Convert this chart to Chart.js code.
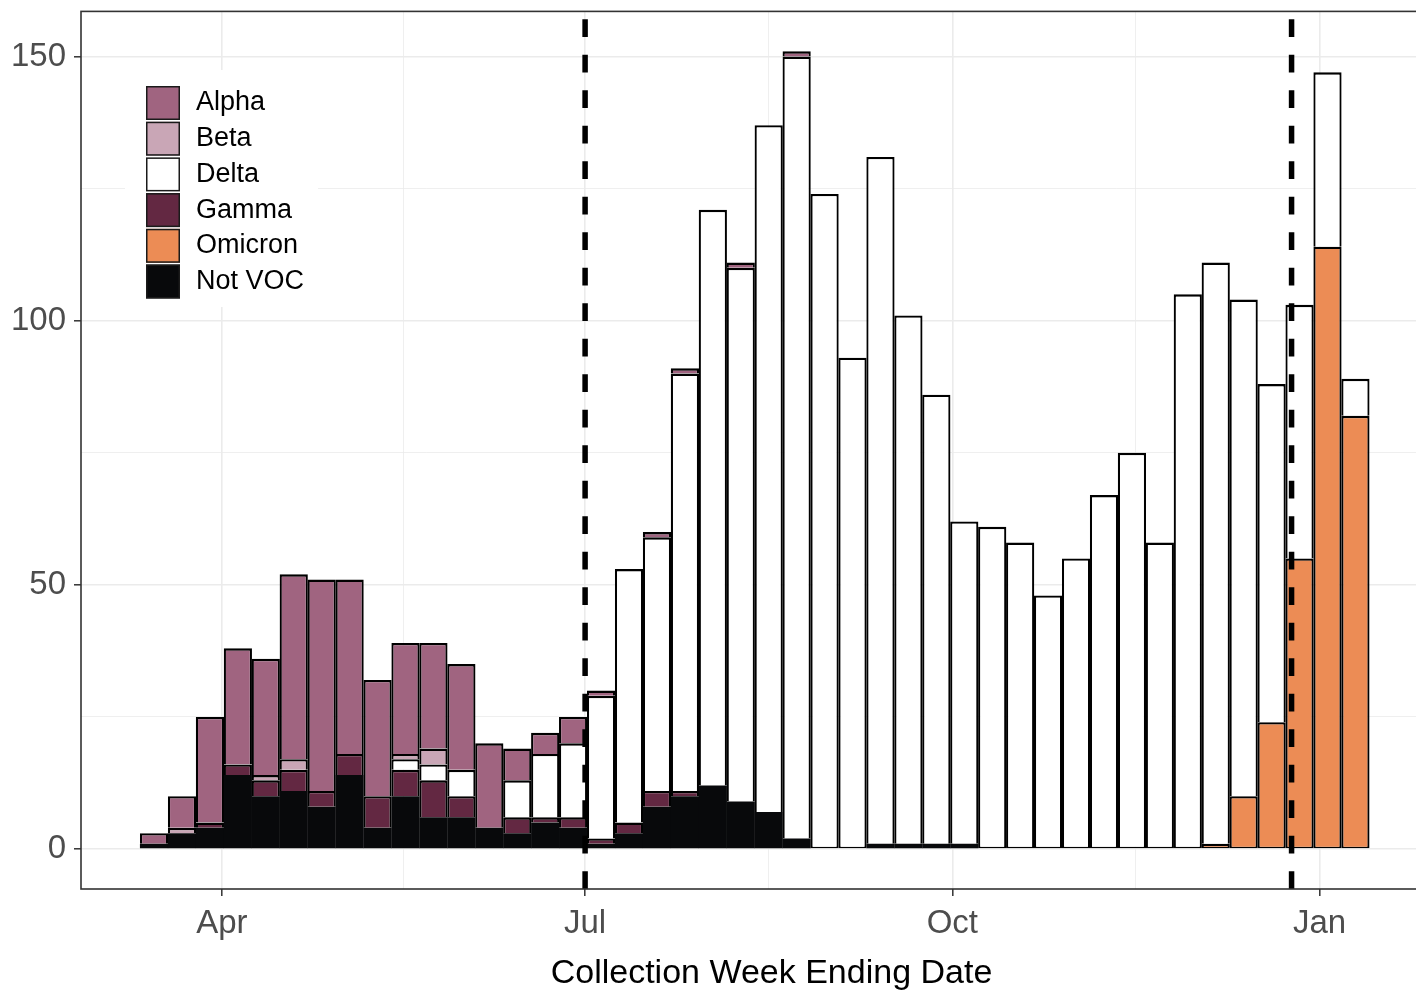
<!DOCTYPE html>
<html><head><meta charset="utf-8">
<script src="https://cdn.jsdelivr.net/npm/chart.js@4"></script>
<style>
html,body{margin:0;padding:0;background:#fff;overflow:hidden;}
#wrap{position:relative;width:1416px;height:992px;overflow:hidden;background:#fff;}
canvas{position:absolute;left:0;top:0;}
</style></head><body>
<div id="wrap"><canvas id="c" width="1464" height="992" style="width:1464px;height:992px"></canvas></div>
<script>
// ---- data ----
const weekDates = ['2021-03-15','2021-03-22','2021-03-29','2021-04-05','2021-04-12','2021-04-19','2021-04-26',
  '2021-05-03','2021-05-10','2021-05-17','2021-05-24','2021-05-31','2021-06-07','2021-06-14','2021-06-21','2021-06-28',
  '2021-07-05','2021-07-12','2021-07-19','2021-07-26','2021-08-02','2021-08-09','2021-08-16','2021-08-23','2021-08-30',
  '2021-09-06','2021-09-13','2021-09-20','2021-09-27','2021-10-04','2021-10-11','2021-10-18','2021-10-25',
  '2021-11-01','2021-11-08','2021-11-15','2021-11-22','2021-11-29','2021-12-06','2021-12-13','2021-12-20','2021-12-27',
  '2022-01-03','2022-01-10'];
const notVOC  = [1,3,4,14,10,11,8,14,4,10,6,6,4,3,5,4,1,3,8,10,12,9,7,2,0,0,1,1,1,1,0,0,0,0,0,0,0,0,0,0,0,0,0,0];
const omicron = [0,0,0,0,0,0,0,0,0,0,0,0,0,0,0,0,0,0,0,0,0,0,0,0,0,0,0,0,0,0,0,0,0,0,0,0,0,0,1,10,24,55,114,82];
const gamma   = [0,0,1,2,3,4,3,4,6,5,7,4,0,3,1,2,1,2,3,1,0,0,0,0,0,0,0,0,0,0,0,0,0,0,0,0,0,0,0,0,0,0,0,0];
const delta   = [0,0,0,0,0,0,0,0,0,2,3,5,0,7,12,14,27,48,48,79,109,101,130,148,124,93,130,100,85,61,61,58,48,55,67,75,58,105,110,94,64,48,33,7];
const beta    = [0,1,0,0,1,2,0,0,0,1,3,0,0,0,0,0,0,0,0,0,0,0,0,0,0,0,0,0,0,0,0,0,0,0,0,0,0,0,0,0,0,0,0,0];
const alpha   = [2,6,20,22,22,35,40,33,22,21,20,20,16,6,4,5,1,0,1,1,0,1,0,1,0,0,0,0,0,0,0,0,0,0,0,0,0,0,0,0,0,0,0,0];

const xTickDates  = ['2021-04-01','2021-07-01','2021-10-01','2022-01-01'];
const xTickLabels = ['Apr','Jul','Oct','Jan'];
const yTickValues = [0,50,100,150];
const vlineDates  = ['2021-07-01','2021-12-25'];
const xTitle = 'Collection Week Ending Date';

// stacking order: bottom first
const seriesDefs = [
  {label:'Not VOC', data:notVOC,  color:'#08090B'},
  {label:'Omicron', data:omicron, color:'#EC8C55'},
  {label:'Gamma',   data:gamma,   color:'#632842'},
  {label:'Delta',   data:delta,   color:'#FFFFFF'},
  {label:'Beta',    data:beta,    color:'#C9A6B6'},
  {label:'Alpha',   data:alpha,   color:'#A06480'}
];

// ---- helpers ----
const ORIGIN = Date.parse('2021-04-01T00:00:00Z');
const toDay = s => (Date.parse(s + 'T00:00:00Z') - ORIGIN) / 86400000;
const weekX = weekDates.map(toDay);
const xMajor = xTickDates.map(toDay);
const xMinor = [];
for (let i = 0; i < xMajor.length - 1; i++) xMinor.push((xMajor[i] + xMajor[i+1]) / 2);
const yMinor = [];
for (let i = 0; i < yTickValues.length - 1; i++) yMinor.push((yTickValues[i] + yTickValues[i+1]) / 2);

const bottomSeg = weekX.map((_, j) => seriesDefs.findIndex(s => s.data[j] > 0));

const FONT = "'Liberation Sans', Arial, Helvetica, sans-serif";

const datasets = seriesDefs.map((s, k) => ({
  label: s.label,
  data: s.data.map((v, j) => ({x: weekX[j], y: v > 0 ? v : null})),
  backgroundColor: s.color,
  borderColor: '#000000',
  borderWidth: ctx => {
    const j = ctx.dataIndex, d = ctx.datasetIndex;
    if (seriesDefs[d].label === 'Not VOC') return 0;
    return {top: 2.4, bottom: bottomSeg[j] === d ? 1.4 : 0, left: 2.2, right: 2.2};
  },
  borderSkipped: false,
  barPercentage: 1.01,
  categoryPercentage: 1.0,
  inflateAmount: 0
}));

const isMajorX = v => xMajor.some(m => Math.abs(m - v) < 1e-6);
const isMajorY = v => yTickValues.some(m => Math.abs(m - v) < 1e-6);

const overlayPlugin = {
  id: 'overlay',
  afterDatasetsDraw(chart) {
    const {ctx, chartArea: a, scales} = chart;
    ctx.save();
    // legend
    ctx.fillStyle = '#FFFFFF';
    ctx.fillRect(125, 70, 193, 237);
    const legendOrder = seriesDefs.slice().reverse();
    const pitch = 35.7;
    legendOrder.forEach((s, i) => {
      const y0 = 86 + i * pitch;
      ctx.fillStyle = s.color;
      ctx.fillRect(146, y0, 34, 34);
      ctx.lineWidth = 1.5;
      ctx.strokeStyle = '#1A1A1A';
      ctx.strokeRect(146.75, y0 + 0.75, 32.5, 32.5);
      ctx.fillStyle = '#000000';
      ctx.font = '27px ' + FONT;
      ctx.textAlign = 'left';
      ctx.textBaseline = 'middle';
      ctx.fillText(s.label, 196, y0 + 17);
    });
    // dashed vertical lines
    ctx.beginPath();
    ctx.rect(a.left, a.top, a.right - a.left, a.bottom - a.top);
    ctx.clip();
    ctx.strokeStyle = '#000000';
    ctx.lineWidth = 5.5;
    ctx.setLineDash([17.75, 17.75]);
    vlineDates.forEach(d => {
      const x = scales.x.getPixelForValue(toDay(d));
      ctx.beginPath();
      ctx.moveTo(x, a.bottom);
      ctx.lineTo(x, a.top);
      ctx.stroke();
    });
    ctx.restore();
  },
  afterDraw(chart) {
    const {ctx, chartArea: a} = chart;
    ctx.save();
    ctx.strokeStyle = '#333333';
    ctx.lineWidth = 1.6;
    ctx.strokeRect(a.left, a.top, a.right - a.left, a.bottom - a.top);
    ctx.restore();
  }
};

new Chart(document.getElementById('c'), {
  type: 'bar',
  data: {datasets},
  options: {
    responsive: false,
    animation: false,
    devicePixelRatio: 1,
    layout: {padding: {top: 11.4, left: 0, right: 2, bottom: 0}},
    plugins: {legend: {display: false}, tooltip: {enabled: false}},
    scales: {
      x: {
        type: 'linear', stacked: true, offset: false,
        min: -35.3, max: 310.7,
        afterBuildTicks: s => { s.ticks = xMajor.concat(xMinor).sort((a,b)=>a-b).map(v => ({value: v})); },
        afterFit: s => { s.height = 103; s.paddingLeft = 0; s.paddingRight = 0; },
        grid: {
          offset: false, drawOnChartArea: true, drawTicks: true, tickLength: 7,
          color: '#EBEBEB',
          lineWidth: c => (c.tick && isMajorX(c.tick.value) ? 1.6 : 0.8),
          tickColor: c => (c.tick && isMajorX(c.tick.value) ? '#333333' : 'rgba(0,0,0,0)'),
          tickWidth: 1.5
        },
        border: {display: false},
        ticks: {
          autoSkip: false, maxRotation: 0, minRotation: 0, padding: 8,
          color: '#4D4D4D', font: {family: FONT, size: 33},
          callback: v => { const i = xMajor.findIndex(m => Math.abs(m - v) < 1e-6); return i >= 0 ? xTickLabels[i] : ''; }
        },
        title: {display: true, text: xTitle, color: '#000000', font: {family: FONT, size: 34, lineHeight: 1.1}, padding: {top: 0, bottom: 0}}
      },
      y: {
        type: 'linear', stacked: true,
        min: -7.57, max: 158.54,
        afterBuildTicks: s => { s.ticks = yTickValues.concat(yMinor).sort((a,b)=>a-b).map(v => ({value: v})); },
        afterFit: s => { s.width = 81; s.paddingTop = 0; s.paddingBottom = 0; },
        grid: {
          drawOnChartArea: true, drawTicks: true, tickLength: 7,
          color: '#EBEBEB',
          lineWidth: c => (c.tick && isMajorY(c.tick.value) ? 1.6 : 0.8),
          tickColor: c => (c.tick && isMajorY(c.tick.value) ? '#333333' : 'rgba(0,0,0,0)'),
          tickWidth: 1.5
        },
        border: {display: false},
        ticks: {
          autoSkip: false, padding: 8,
          color: '#4D4D4D', font: {family: FONT, size: 33},
          callback: v => (isMajorY(v) ? String(v) : '')
        }
      }
    }
  },
  plugins: [overlayPlugin]
});
</script>
</body></html>
